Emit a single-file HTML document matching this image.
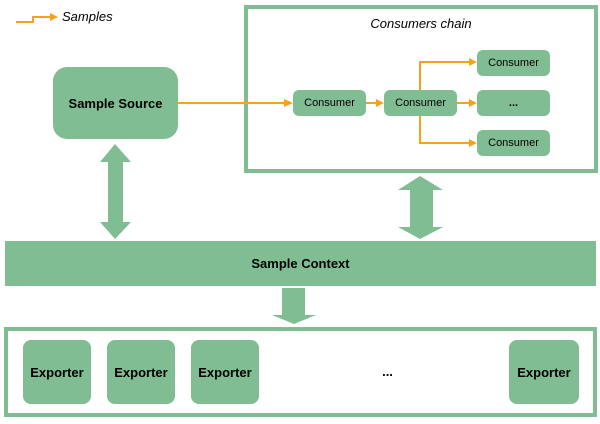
<!DOCTYPE html>
<html><head><style>
body{margin:0;width:600px;height:424px;background:#fff;position:relative;font-family:"Liberation Sans",sans-serif;overflow:hidden}
.b{position:absolute;background:#81bd93;display:flex;align-items:center;justify-content:center;font-weight:bold;color:#000}
.c{position:absolute;background:#81bd93;border-radius:6px;display:flex;align-items:center;justify-content:center;font-size:11px;color:#000}
</style></head><body>
<svg width="600" height="424" style="position:absolute;left:0;top:0">
<rect x="246" y="7" width="350" height="164" fill="none" stroke="#81bd93" stroke-width="4"/>
<rect x="6" y="329" width="589" height="86" fill="none" stroke="#81bd93" stroke-width="4"/>
<polygon fill="#81bd93" points="115,144 131,162 123,162 123,222 131,222 115,239 100,222 108,222 108,162 100,162"/>
<polygon fill="#81bd93" points="420,176 443,190 433,190 433,227 443,227 420,239 398,227 410,227 410,190 398,190"/>
<polygon fill="#81bd93" points="282,288 305,288 305,315 316,315 294,324 272,315 282,315"/>
<g stroke="#f7a21b" stroke-width="2" fill="none">
<polyline points="16,22 33,22 33,17 50,17"/>
<line x1="178" y1="103" x2="285" y2="103"/>
<line x1="366" y1="103" x2="377" y2="103"/>
<line x1="457" y1="103" x2="470" y2="103"/>
<polyline points="420,90 420,62 470,62"/>
<polyline points="420,116 420,143 470,143"/>
</g>
<g fill="#f7a21b">
<polygon points="58,17 50,13 50,21"/>
<polygon points="293,103 284,99 284,107"/>
<polygon points="384,103 376,99 376,107"/>
<polygon points="477,103 469,99 469,107"/>
<polygon points="477,62 469,58 469,66"/>
<polygon points="477,143 469,139 469,147"/>
</g>
</svg>
<div style="position:absolute;left:62px;top:9px;font-size:13px;font-style:italic">Samples</div>
<div style="position:absolute;left:246px;width:350px;top:16px;text-align:center;font-size:13px;font-style:italic">Consumers chain</div>
<div class="b" style="left:53px;top:67px;width:125px;height:72px;border-radius:14px;font-size:13px">Sample Source</div>
<div class="c" style="left:293px;top:90px;width:73px;height:26px">Consumer</div>
<div class="c" style="left:384px;top:90px;width:73px;height:26px">Consumer</div>
<div class="c" style="left:477px;top:50px;width:73px;height:26px">Consumer</div>
<div class="c" style="left:477px;top:90px;width:73px;height:26px;font-weight:bold">...</div>
<div class="c" style="left:477px;top:130px;width:73px;height:26px">Consumer</div>
<div class="b" style="left:5px;top:241px;width:591px;height:45px;font-size:13px">Sample Context</div>
<div class="b" style="left:23px;top:340px;width:68px;height:64px;border-radius:8px;font-size:13px">Exporter</div>
<div class="b" style="left:107px;top:340px;width:68px;height:64px;border-radius:8px;font-size:13px">Exporter</div>
<div class="b" style="left:191px;top:340px;width:68px;height:64px;border-radius:8px;font-size:13px">Exporter</div>
<div class="b" style="left:509px;top:340px;width:70px;height:64px;border-radius:8px;font-size:13px">Exporter</div>
<div style="position:absolute;left:370px;width:35px;top:364px;text-align:center;font-size:13px;font-weight:bold">...</div>
</body></html>
